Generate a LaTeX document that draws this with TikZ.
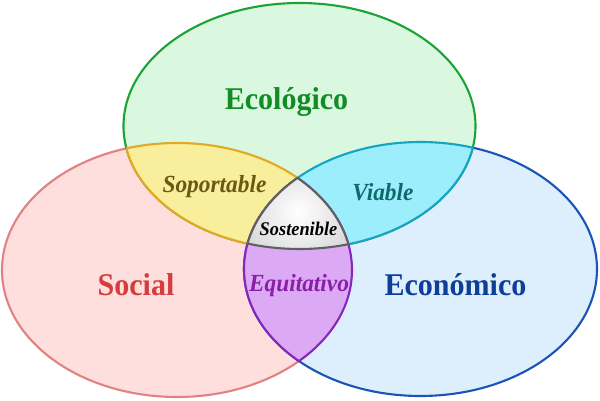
\documentclass[tikz,border=0pt]{standalone}
\usepackage{fontspec}
\setmainfont[FakeStretch=0.95]{Liberation Serif}
\usepackage[dvipsnames,svgnames]{xcolor}
\usepackage{tikz}

\definecolor{ecofill}{HTML}{DAF7DF}
\definecolor{ecoline}{HTML}{1BA336}
\definecolor{ecotext}{HTML}{128C24}
\definecolor{socfill}{HTML}{FFDEDE}
\definecolor{socline}{HTML}{E08282}
\definecolor{soctext}{HTML}{D63C3C}
\definecolor{ecnfill}{HTML}{DDEEFC}
\definecolor{ecnline}{HTML}{1A55B5}
\definecolor{ecntext}{HTML}{0E3E98}
\definecolor{supfill}{HTML}{F8EE9C}
\definecolor{supline}{HTML}{E2AA22}
\definecolor{suptext}{HTML}{6A5914}
\definecolor{viafill}{HTML}{9DEEFD}
\definecolor{vialine}{HTML}{15A4C2}
\definecolor{viatext}{HTML}{0F6A6E}
\definecolor{equfill}{HTML}{DCA9F5}
\definecolor{equline}{HTML}{8526BD}
\definecolor{equtext}{HTML}{8A1FA8}
\definecolor{sosline}{HTML}{606060}
\definecolor{sosedge}{HTML}{999999}

\tikzset{
  biglabel/.style={font=\fontsize{18}{20}\selectfont\bfseries, anchor=base, inner sep=0pt},
  midlabel/.style={font=\fontsize{14}{16}\selectfont\bfseries\itshape, anchor=base, inner sep=0pt},
}

\begin{document}
\begin{tikzpicture}[x=0.02cm,y=0.02cm,line width=1.2pt] % 像素坐标, 600x400
            \useasboundingbox (0,0) rectangle (600,400);
            \coordinate (eco) at (299.5,274);
            \coordinate (soc) at (177,130);
            \coordinate (ecn) at (420.5,131);
            % 三个椭圆
            \draw[socline,fill=socfill] (soc) ellipse (175 and 127);
            \draw[ecnline,fill=ecnfill] (ecn) ellipse (176.5 and 127);
            \draw[ecoline,fill=ecofill] (eco) ellipse (176 and 123);
            % 两两相交
            \begin{scope}
                \clip (eco) ellipse (176 and 123);
                \draw[supline,fill=supfill] (soc) ellipse (175 and 127);
            \end{scope}
            \begin{scope}
                \clip (soc) ellipse (175 and 127);
                \draw[supline] (eco) ellipse (176 and 123);
            \end{scope}
            \begin{scope}
                \clip (eco) ellipse (176 and 123);
                \draw[vialine,fill=viafill] (ecn) ellipse (176.5 and 127);
            \end{scope}
            \begin{scope}
                \clip (ecn) ellipse (176.5 and 127);
                \draw[vialine] (eco) ellipse (176 and 123);
            \end{scope}
            \begin{scope}
                \clip (soc) ellipse (175 and 127);
                \draw[equline,fill=equfill] (ecn) ellipse (176.5 and 127);
            \end{scope}
            \begin{scope}
                \clip (ecn) ellipse (176.5 and 127);
                \draw[equline] (soc) ellipse (175 and 127);
            \end{scope}
            % 中间部分
            \begin{scope}
                \clip (eco) ellipse (176 and 123);
                \clip (soc) ellipse (175 and 127);
                \clip (ecn) ellipse (176.5 and 127);
                \fill[sosedge] (eco) ellipse (176 and 123);
                \shade[inner color=white,outer color=sosedge] (298,188) circle (150);
            \end{scope}
            \begin{scope}
                \clip (eco) ellipse (176 and 123);
                \clip (soc) ellipse (175 and 127);
                \draw[sosline] (ecn) ellipse (176.5 and 127);
            \end{scope}
            \begin{scope}
                \clip (eco) ellipse (176 and 123);
                \clip (ecn) ellipse (176.5 and 127);
                \draw[sosline] (soc) ellipse (175 and 127);
            \end{scope}
            \begin{scope}
                \clip (soc) ellipse (175 and 127);
                \clip (ecn) ellipse (176.5 and 127);
                \draw[sosline] (eco) ellipse (176 and 123);
            \end{scope}
            % 文字
            \node[biglabel,ecotext] (ecolab) at (286.5,291) {Ecológico};
            \node[biglabel,soctext] (soclab) at (136,105) {Social};
            \node[biglabel,ecntext] (ecnlab) at (455.5,105) {Económico};
            \node[midlabel,suptext] (suplab) at (214.5,208) {Soportable};
            \node[midlabel,viatext] (vialab) at (383,200) {Viable};
            \node[midlabel,equtext] (equlab) at (299,109) {Equitativo};
            \node[font=\fontsize{11}{13}\selectfont\bfseries\itshape,anchor=base,inner sep=0pt] (soslab) at (298.5,165) {Sostenible};
        \end{tikzpicture}
\end{document}
